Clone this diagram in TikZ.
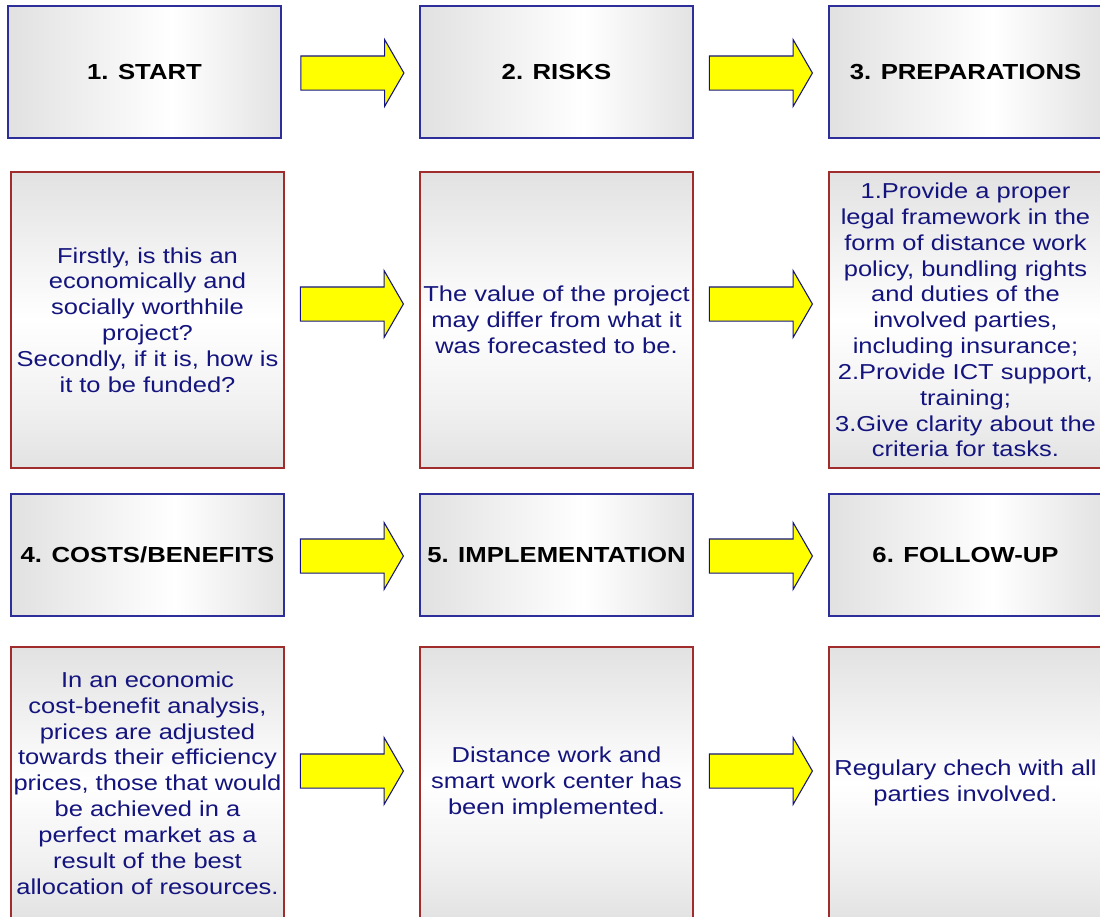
\documentclass[tikz,border=0pt]{standalone}
\usepackage{fontspec}
\setmainfont[FakeStretch=1.18]{Liberation Sans}
\usepackage{xcolor}
\usetikzlibrary{calc, shapes.arrows}
\definecolor{boxblue}{HTML}{2E2E9A}
\definecolor{boxred}{HTML}{A02C2C}
\definecolor{textnavy}{HTML}{14147E}
\definecolor{arrowyellow}{RGB}{255,255,0}
\definecolor{edgegray}{HTML}{C0C0C0}
\definecolor{midgray}{HTML}{DCDCDC}
\definecolor{lightgray}{HTML}{F0F0F0}
\pgfdeclarehorizontalshading{sheenh}{100bp}{color(0bp)=(edgegray); color(20bp)=(midgray);
  color(55bp)=(white); color(80bp)=(midgray); color(100bp)=(edgegray)}
\pgfdeclareverticalshading{sheenv}{100bp}{color(0bp)=(edgegray); color(35bp)=(lightgray);
  color(50bp)=(white); color(80bp)=(midgray); color(100bp)=(edgegray)}

\begin{document}
\begin{tikzpicture}
              [x=0.02cm, y=-0.02cm,
               hbox/.style={rectangle, draw=boxblue, line width=0.9pt, inner sep=0pt,
                 minimum width=5.46cm, minimum height=2.64cm, shading=sheenh,
                 text=black, font=\fontsize{12.4}{15}\selectfont\bfseries},
               tbox/.style={rectangle, draw=boxred, line width=0.9pt, inner sep=0pt,
                 minimum width=5.46cm, minimum height=5.92cm, shading=sheenv,
                 text=textnavy, align=center, font=\fontsize{12.3}{14.7}\selectfont},
               blockarrow/.style={single arrow, draw=textnavy, fill=arrowyellow, line width=0.6pt,
                 inner xsep=0pt, inner ysep=0.33cm, minimum height=2.06cm,
                 single arrow head extend=0.33cm, single arrow tip angle=120}]
              \useasboundingbox (0,0) rectangle (1100,917);
              \clip (0,0) rectangle (1100,917);

              % nodes %
              \node[hbox] (start) at (144.5,72) {1. START};
              \node[hbox] (risks) at (556.5,72) {2. RISKS};
              \node[hbox] (prep) at (965.5,72) {3. PREPARATIONS};

              \node[tbox] (starttxt) at (147.5,320) {Firstly, is this an\\ economically and\\ socially worthhile\\ project?\\ Secondly, if it is, how is\\ it to be funded?};
              \node[tbox] (riskstxt) at (556.5,320) {The value of the project\\ may differ from what it\\ was forecasted to be.};
              \node[tbox] (preptxt) at (965.5,320) {1.Provide a proper\\ legal framework in the\\ form of distance work\\ policy, bundling rights\\ and duties of the\\ involved parties,\\ including insurance;\\ 2.Provide ICT support,\\ training;\\ 3.Give clarity about the\\ criteria for tasks.};

              \node[hbox, minimum height=2.44cm] (costs) at (147.5,555) {4. COSTS/BENEFITS};
              \node[hbox, minimum height=2.44cm] (impl) at (556.5,555) {5. IMPLEMENTATION};
              \node[hbox, minimum height=2.44cm] (follow) at (965.5,555) {6. FOLLOW-UP};

              \node[tbox, minimum height=5.44cm] (coststxt) at (147.5,783) {In an economic\\ cost-benefit analysis,\\ prices are adjusted\\ towards their efficiency\\ prices, those that would\\ be achieved in a\\ perfect market as a\\ result of the best\\ allocation of resources.};
              \node[tbox, minimum height=5.44cm] (impltxt) at (556.5,783) {Distance work and\\ smart work center has\\ been implemented.};
              \node[tbox, minimum height=5.44cm] (followtxt) at (965.5,783) {Regulary chech with all\\ parties involved.};

              % arrows %
              \node[blockarrow] (a1) at ($(start.east)!0.5!(risks.west)+(-3,1)$) {};
              \node[blockarrow] (a2) at ($(risks.east)!0.5!(prep.west)+(-5,1)$) {};
              \node[blockarrow] (a3) at ($(starttxt.east)!0.5!(riskstxt.west)+(-5,-16)$) {};
              \node[blockarrow] (a4) at ($(riskstxt.east)!0.5!(preptxt.west)+(-5,-16)$) {};
              \node[blockarrow] (a5) at ($(costs.east)!0.5!(impl.west)+(-5,1)$) {};
              \node[blockarrow] (a6) at ($(impl.east)!0.5!(follow.west)+(-5,1)$) {};
              \node[blockarrow] (a7) at ($(coststxt.east)!0.5!(impltxt.west)+(-5,-12)$) {};
              \node[blockarrow] (a8) at ($(impltxt.east)!0.5!(followtxt.west)+(-5,-12)$) {};
            \end{tikzpicture}
\end{document}
